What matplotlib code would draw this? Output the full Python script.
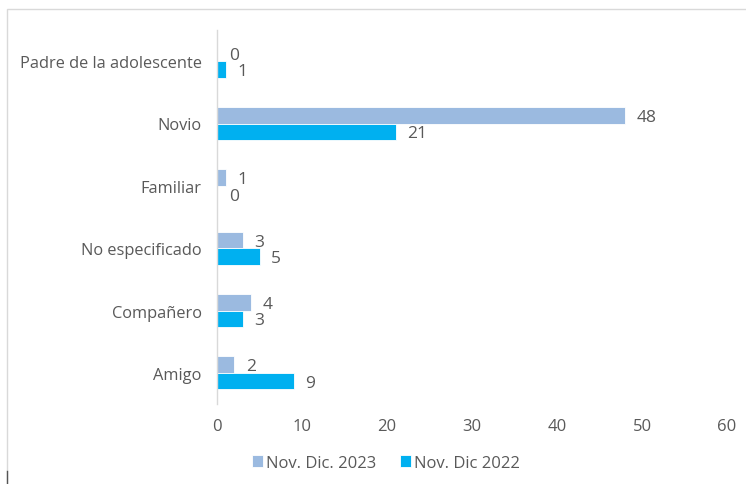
import matplotlib
matplotlib.use("Agg")
import matplotlib.pyplot as plt
from matplotlib.patches import Rectangle
from matplotlib.lines import Line2D
import numpy as np

categories = ["Padre de la adolescente", "Novio", "Familiar", "No especificado", "Compañero", "Amigo"]
series_2023 = [0, 48, 1, 3, 4, 2]
series_2022 = [1, 21, 0, 5, 3, 9]
series_names = ["Nov. Dic. 2023", "Nov. Dic 2022"]
xticks = [0, 10, 20, 30, 40, 50, 60]

plt.rcParams['font.family'] = ['Open Sans', 'DejaVu Sans']
txt = "#595959"
c23 = "#9BBAE0"
c22 = "#00B0F0"

fig = plt.figure(figsize=(7.46, 4.85), dpi=100)
ax = fig.add_axes([217/746, 1-405/485, (727-217)/746, (405-31)/485])

y = np.arange(len(categories))
h = 0.265
b1 = ax.barh(y - h/2, series_2023, height=h, color=c23, edgecolor="white", linewidth=0.6, label=series_names[0])
b2 = ax.barh(y + h/2, series_2022, height=h, color=c22, edgecolor="white", linewidth=0.6, label=series_names[1])

for bars, vals in ((b1, series_2023), (b2, series_2022)):
    for rect, v in zip(bars, vals):
        ax.annotate(str(v), (rect.get_width(), rect.get_y() + rect.get_height()/2),
                    xytext=(8.5, -1.2), textcoords="offset points", va="center", ha="left",
                    fontsize=12.5, color=txt)

ax.set_ylim(len(categories) - 0.5, -0.5)
ax.set_xlim(0, 60)
ax.set_yticks(y)
ax.set_yticklabels(categories, fontsize=11.8, color=txt)
ax.set_xticks(xticks)
ax.set_xticklabels([str(t) for t in xticks], fontsize=12, color=txt)
ax.tick_params(axis="both", length=0)
ax.tick_params(axis="y", pad=11)
ax.tick_params(axis="x", pad=10)
for s in ["top", "right", "bottom"]:
    ax.spines[s].set_visible(False)
ax.spines["left"].set_color("#D9D9D9")
ax.spines["left"].set_linewidth(1)

leg = fig.legend(handles=[b1, b2], labels=series_names, loc="center", bbox_to_anchor=(0.517, 1-464/485),
                 ncol=2, frameon=False, fontsize=12, handlelength=0.7, handleheight=0.7,
                 handletextpad=0.15, columnspacing=1.4)
for t in leg.get_texts():
    t.set_color(txt)

# outer chart frame
fig.patches.append(Rectangle((7/746, -0.05), 1.0, 1.05 - 10/485, transform=fig.transFigure,
                             fill=False, edgecolor="#D9D9D9", linewidth=1))
fig.lines.append(Line2D([7/746, 7/746], [0, 13/485], transform=fig.transFigure, color="#555555", linewidth=1))

fig.savefig("out.png", dpi=100)
